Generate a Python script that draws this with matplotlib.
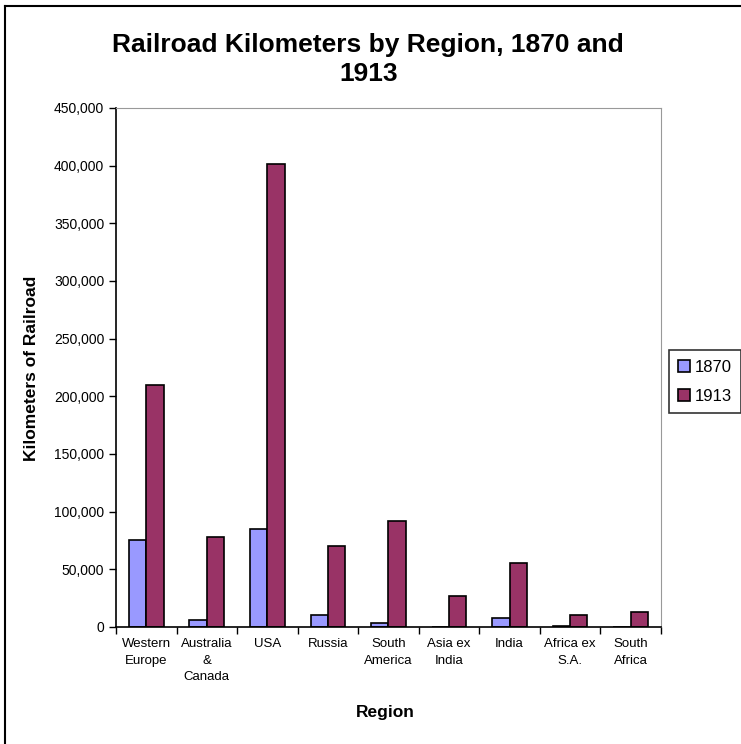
import matplotlib
matplotlib.use("Agg")
import matplotlib.pyplot as plt
import numpy as np
from matplotlib.lines import Line2D
from matplotlib.ticker import FuncFormatter

plt.rcParams['font.family'] = ['Liberation Sans', 'DejaVu Sans']

regions = ["Western\nEurope", "Australia\n&\nCanada", "USA", "Russia", "South\nAmerica",
           "Asia ex\nIndia", "India", "Africa ex\nS.A.", "South\nAfrica"]
km_1870 = [75000, 6000, 85000, 10500, 3500, 0, 8000, 1000, 0]
km_1913 = [210000, 78000, 401000, 70500, 92000, 27000, 55500, 10500, 13000]
series_labels = ["1870", "1913"]
colors = ["#9999FF", "#993366"]

fig = plt.figure(figsize=(7.41, 7.44), dpi=100)
ax = fig.add_axes([0.1565, 0.1573, 0.7355, 0.6976])

x = np.arange(len(regions))
w = 1 / 3.5
b1 = ax.bar(x - w / 2, km_1870, w, color=colors[0], edgecolor="black", linewidth=1.2, label=series_labels[0])
b2 = ax.bar(x + w / 2, km_1913, w, color=colors[1], edgecolor="black", linewidth=1.2, label=series_labels[1])

ax.set_xlim(-0.5, len(regions) - 0.5)
ax.set_ylim(0, 450000)
ax.set_yticks(np.arange(0, 450001, 50000))
ax.yaxis.set_major_formatter(FuncFormatter(lambda v, p: f"{int(v):,}"))
ax.set_xticks(x)
ax.set_xticklabels(regions, fontsize=9.5, linespacing=1.5)
ax.set_xticks(np.arange(-0.5, len(regions), 1), minor=True)
ax.tick_params(axis='x', which='major', length=0, pad=8)
ax.tick_params(axis='x', which='minor', length=5, direction='out', width=1)
ax.tick_params(axis='y', labelsize=10, length=5, direction='out', width=1)

for s in ['top', 'right']:
    ax.spines[s].set_color('#999999')
for s in ['left', 'bottom']:
    ax.spines[s].set_color('black')
    ax.spines[s].set_linewidth(1.2)

fig.text(0.497, 0.92, "Railroad Kilometers by Region, 1870 and\n1913", ha='center', va='center',
         fontsize=19, fontweight='bold', linespacing=1.25)
fig.text(0.043, 0.505, "Kilometers of Railroad", rotation=90, ha='center', va='center',
         fontsize=12.5, fontweight='bold')
fig.text(0.52, 0.042, "Region", ha='center', va='center', fontsize=12.5, fontweight='bold')

leg = fig.legend(handles=[b1, b2], labels=series_labels, loc='upper left',
                 bbox_to_anchor=(0.903, 0.529), frameon=True, fancybox=False,
                 edgecolor='black', fontsize=12, handlelength=0.7, handleheight=0.7,
                 handletextpad=0.3, borderpad=0.55, labelspacing=0.85, borderaxespad=0)
leg.get_frame().set_linewidth(1.2)

# outer chart-area border (top and left visible in reference)
fig.add_artist(Line2D([0.007, 0.999], [0.992, 0.992], transform=fig.transFigure,
                      color='black', linewidth=1.5))
fig.add_artist(Line2D([0.007, 0.007], [0.0, 0.992], transform=fig.transFigure,
                      color='black', linewidth=1.5))

fig.savefig("out.png", dpi=100)
